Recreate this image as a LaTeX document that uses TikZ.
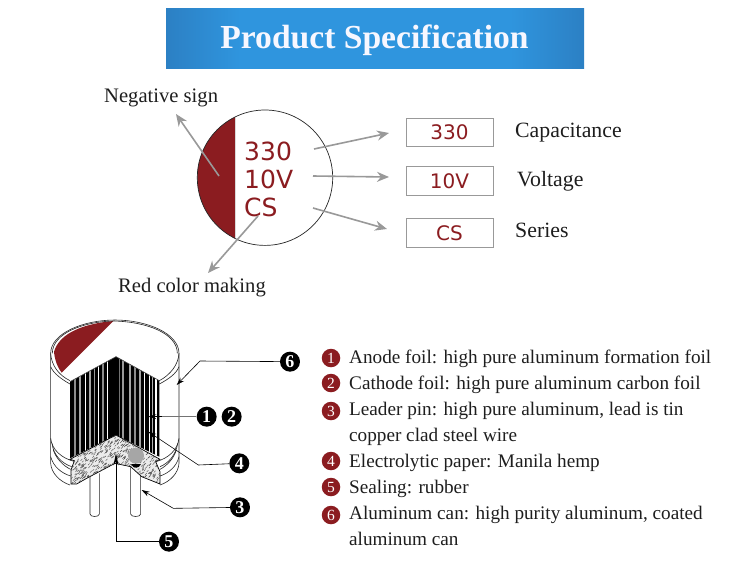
\documentclass[tikz,border=0pt]{standalone}
\usepackage{fontspec}
\setmainfont{Liberation Serif}
\newfontfamily\vfont{DejaVu Sans}
\usetikzlibrary{arrows.meta,calc}
\definecolor{dred}{HTML}{8B1C20}
\definecolor{bblue}{HTML}{2F95DE}
\definecolor{bedge}{HTML}{2C80C4}
\definecolor{ggray}{HTML}{999999}
\definecolor{ink}{HTML}{1E1E1E}
\tikzset{
 lab/.style={font=\fontsize{20.6}{21}\selectfont,text=ink,anchor=base west,inner sep=0pt},
 labr/.style={font=\fontsize{21.8}{22}\selectfont,text=ink,anchor=base west,inner sep=0pt},
 item/.style={font=\fontsize{19.2}{20}\selectfont,text=ink,anchor=base west,inner sep=0pt},
 valbox/.style={draw=ggray,line width=.7pt,minimum width=87pt,minimum height=28.5pt,inner sep=0pt,font=\vfont\fontsize{20}{21}\selectfont,text=dred},
 marktxt/.style={font=\vfont\fontsize{25}{26}\selectfont,text=dred,anchor=base west,inner sep=0pt},
 garrow/.style={draw=ggray,line width=1.6pt,-{Stealth[length=12pt,width=10pt]}},
 badge/.style={circle,fill=dred,text=white,minimum size=18.5pt,inner sep=0pt,font=\fontsize{15.5}{15}\selectfont},
 bknum/.style={circle,fill=black,text=white,minimum size=20pt,inner sep=0pt,font=\bfseries\fontsize{18}{18}\selectfont},
 leader/.style={draw=black,line width=.6pt},
 tip/.style={-{Stealth[length=8pt,width=5pt]}},
 canline/.style={draw=black!85,line width=.6pt},
}
\begin{document}
\begin{tikzpicture}[x=1pt,y=-1pt]
\useasboundingbox (0,0) rectangle (750,563);
\fill[white] (0,0) rectangle (750,563);
% banner
\begin{scope}
\clip (166,8) rectangle (584,69);
\fill[bblue] (166,8) rectangle (584,69);
\shade[left color=bedge,right color=bblue] (166,4) rectangle (240,73);
\shade[left color=bblue,right color=bedge] (510,4) rectangle (584,73);
\end{scope}
\fill[white] (160,69) rectangle (590,73);
\node[font=\bfseries\fontsize{33.6}{38}\selectfont,text=white!97!blue,inner sep=0pt,anchor=base] (title) at (374.5,48) {Product Specification};
% marking circle
\begin{scope}
\clip (197,100) rectangle (235,260);
\fill[dred] (265,177.7) circle (67.7);
\end{scope}
\draw[black!85,line width=.7pt] (265,177.7) circle (67.7);
\draw[black!15,line width=1pt] (235.5,118) -- (235.5,238);
\node[marktxt] (m1) at (244,160) {330};
\node[marktxt] (m2) at (244,188) {10V};
\node[marktxt] (m3) at (244,216) {CS};
% value boxes
\node[valbox] (b1) at (449.5,132.5) {330};
\node[valbox] (b2) at (449.5,181) {10V};
\node[valbox] (b3) at (449.5,233) {CS};
\node[labr] (l1) at (515,137.5) {Capacitance};
\node[labr] (l2) at (517,186.5) {Voltage};
\node[labr] (l3) at (515,237.5) {Series};
\node[lab] (neg) at (104,102) {Negative sign};
\node[lab] (redm) at (118,292) {Red color making};
\coordinate (a1s) at (314,149); \coordinate (a2s) at (313,176); \coordinate (a3s) at (313,208);
\coordinate (a4s) at (219,176); \coordinate (a5s) at (258,216);
\coordinate (a1e) at (389,133); \coordinate (a2e) at (389,177); \coordinate (a3e) at (387,229);
\coordinate (a4e) at (176,114); \coordinate (a5e) at (208,273);
\draw[garrow] (a1s) -- (a1e);
\draw[garrow] (a2s) -- (a2e);
\draw[garrow] (a3s) -- (a3e);
\draw[garrow] (a4s) -- (a4e);
\draw[garrow] (a5s) -- (a5e);
% capacitor, in zoom coordinates
\begin{scope}[shift={(30,310)},x=.33333pt,y=-.33333pt]
 % can body
 \draw[canline] (120,525) .. controls (90,515) and (64,490) .. (62,460) -- (62,130)
   .. controls (62,70) and (160,30) .. (255,30) .. controls (350,30) and (447,70) .. (447,130)
   -- (447,460) .. controls (445,490) and (420,515) .. (390,525);
 % top rim
 \fill[dred] (250,33) .. controls (170,40) and (90,65) .. (72,125) .. controls (74,150) and (84,175) .. (95,188) -- cycle;
 \draw[canline] (67,130) .. controls (67,70) and (160,35) .. (250,33) .. controls (350,35) and (442,70) .. (442,130);
 \draw[canline] (62,130) .. controls (64,165) and (85,195) .. (120,212);
 \draw[canline] (62,170) .. controls (70,190) and (95,208) .. (120,222);
 \draw[canline] (447,130) .. controls (445,165) and (420,195) .. (388,212);
 \draw[canline] (447,170) .. controls (440,190) and (415,208) .. (388,222);
 % crimp lines
 \draw[canline] (62,385) .. controls (66,420) and (95,445) .. (135,455);
 \draw[canline] (66,400) .. controls (70,435) and (95,460) .. (125,470);
 \draw[canline] (70,420) .. controls (78,445) and (100,468) .. (122,478);
 \draw[canline] (62,440) .. controls (70,470) and (95,490) .. (122,498);
 \draw[canline] (447,385) .. controls (443,420) and (415,445) .. (378,455);
 \draw[canline] (443,400) .. controls (438,435) and (415,460) .. (390,470);
 \draw[canline] (439,420) .. controls (432,445) and (410,468) .. (390,478);
 \draw[canline] (447,440) .. controls (440,470) and (415,490) .. (390,498);
 % windings
 \fill[black] (120,215) -- (258,140) -- (388,212) -- (388,440) -- (258,375) -- (120,445) -- cycle;
 \begin{scope}
  \clip (120,215) -- (258,140) -- (388,212) -- (388,440) -- (258,375) -- (120,445) -- cycle;
  \foreach \sx/\sw/\sc in {135/5/black!45,150/4/black!35,167/4/white,180/5/black!35,195/3/black!40,205/4/white,220/7/black!45,233/4/white,
     270/3/black!55,280/5/black!40,300/6/black!35,315/4/black!45,330/4/black!35,345/3/white,358/3/white,368/3/black!30,378/4/white}
   \draw[\sc,line width=\sw*.33333pt] (\sx,130) -- (\sx,450);
 \end{scope}
 \draw[black!70,line width=.6pt] (120,215) -- (258,140) -- (388,212);
 % leads
 \draw[canline,fill=white] (180,500) -- (180,612) .. controls (180,622) and (208,622) .. (208,612) -- (208,490);
 \draw[canline,fill=white] (302,460) -- (302,612) .. controls (302,622) and (332,622) .. (332,612) -- (332,460);
 % sealing
 \path[fill=black!8,draw=black,line width=.7pt] (120,448) -- (258,375) -- (390,448) -- (377,455) -- (390,485) -- (390,522) -- (335,500) -- (302,470) -- (255,460) -- (170,505) -- (140,522) -- (123,522) -- (123,480) -- (133,452) -- cycle;
 \begin{scope}
  \clip (120,448) -- (258,375) -- (390,448) -- (377,455) -- (390,485) -- (390,522) -- (335,500) -- (302,470) -- (255,460) -- (170,505) -- (140,522) -- (123,522) -- (123,480) -- (133,452) -- cycle;
  \pgfmathsetseed{7}
  \foreach \i in {1,...,720}{
   \pgfmathsetmacro{\qx}{120+270*rnd}
   \pgfmathsetmacro{\qy}{375+150*rnd}
   \draw[black!75,line width=.35pt] (\qx,\qy) -- ++(5,-5);
  }
 \end{scope}
 \fill[black] (303,462) .. controls (310,477) and (327,477) .. (333,462) -- cycle;
 \fill[black!35] (318,437) circle (24);
 % badges and leaders
 \node[bknum] (n6) at (780,155) {6};
 \node[bknum] (n1) at (530,320) {1};
 \node[bknum] (n2) at (605,320) {2};
 \node[bknum] (n4) at (628,460) {4};
 \node[bknum] (n3) at (630,592) {3};
 \node[bknum] (n5) at (417,695) {5};
 \coordinate (k6) at (510,153); \coordinate (e6) at (440,225);
 \coordinate (e1) at (355,320); \coordinate (m1k) at (395,320);
 \coordinate (k4) at (505,465); \coordinate (e4) at (355,365);
 \coordinate (k3) at (430,595); \coordinate (e3) at (335,540);
 \coordinate (k5) at (258,695); \coordinate (e5) at (258,430);
 \draw[leader,tip] (n6) -- (k6) -- (e6);
 \draw[leader,black!55] (n1) -- (m1k);
 \draw[leader,tip] (m1k) -- (e1);
 \draw[leader,tip] (n4) -- (k4) -- (e4);
 \draw[leader,tip] (n3) -- (k3) -- (e3);
 \draw[leader,-{Stealth[length=12pt,width=5pt]}] (n5) -- (k5) -- (e5);
\end{scope}
% list
\node[badge] (c1) at (331,358) {1};
\node[badge] (c2) at (331,383) {2};
\node[badge] (c3) at (331,411) {3};
\node[badge] (c4) at (331,461) {4};
\node[badge] (c5) at (331,487) {5};
\node[badge] (c6) at (331,515) {6};
\node[item] (t1) at (349,363) {Anode foil: high pure aluminum formation foil};
\node[item] (t2) at (349,389) {Cathode foil: high pure aluminum carbon foil};
\node[item] (t3) at (349,415) {Leader pin: high pure aluminum, lead is tin};
\node[item] (t3b) at (349,441) {copper clad steel wire};
\node[item] (t4) at (349,467) {Electrolytic paper: Manila hemp};
\node[item] (t5) at (349,493) {Sealing: rubber};
\node[item] (t6) at (349,519) {Aluminum can: high purity aluminum, coated};
\node[item] (t6b) at (349,545) {aluminum can};
\end{tikzpicture}
\end{document}
